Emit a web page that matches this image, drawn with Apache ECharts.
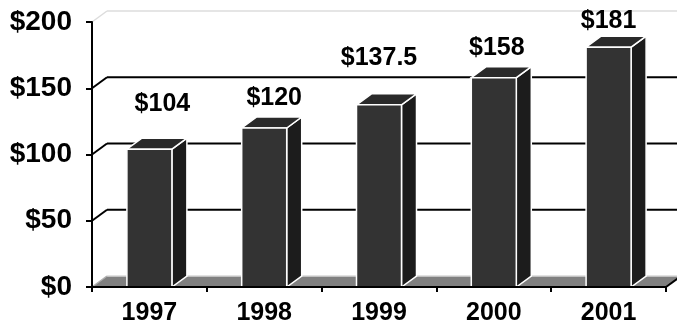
<!DOCTYPE html>
<html><head><meta charset="utf-8">
<script src="https://cdn.jsdelivr.net/npm/echarts@6/dist/echarts.min.js"></script>
<style>html,body{margin:0;padding:0;background:#fff}#c{width:677px;height:328px}</style>
</head><body><div id="c"></div>
<script>
// ---- data ----
const categories = ['1997', '1998', '1999', '2000', '2001'];
const values = [104, 120, 137.5, 158, 181];
const valueLabels = ['$104', '$120', '$137.5', '$158', '$181'];
const yTicks = [0, 50, 100, 150, 200];
const yTickLabels = ['$0', '$50', '$100', '$150', '$200'];

// ---- style (pixel nudges / 3D depth) ----
const labelDx = [13, 10, 0, 3, 0];
const labelDy = [-45, -30, -47, -30, -26];
const DX = 15, DY = -11;
const FONT = '"Liberation Sans", Arial, sans-serif';

const chart = echarts.init(document.getElementById('c'));

function wallItem(params, api) {
  const v = api.value(0);
  const y = api.coord([0, v])[1];
  const cs = params.coordSys;
  const L = cs.x, R = cs.x + cs.width;
  if (v === 0) {
    return {
      type: 'group', children: [
        { type: 'polygon', shape: { points: [[L, y], [L + DX, y + DY], [R + DX, y + DY], [R, y]] },
          style: { fill: '#808080', stroke: null } },
        { type: 'line', shape: { x1: L + DX, y1: y + DY, x2: R + DX, y2: y + DY },
          style: { stroke: '#d9d9d9', lineWidth: 1.5 } },
        { type: 'line', shape: { x1: L, y1: y, x2: L + DX, y2: y + DY },
          style: { stroke: '#b0b0b0', lineWidth: 1.5 } },
        { type: 'line', shape: { x1: R, y1: y, x2: R + DX, y2: y + DY },
          style: { stroke: '#000', lineWidth: 2 } }
      ]
    };
  }
  const top = v === yTicks[yTicks.length - 1];
  const col = top ? '#dcdcdc' : '#000';
  const lw = top ? 1.5 : 2;
  return {
    type: 'group', children: [
      { type: 'line', shape: { x1: L, y1: y, x2: L + DX, y2: y + DY }, style: { stroke: col, lineWidth: lw } },
      { type: 'line', shape: { x1: L + DX, y1: y + DY, x2: R + DX + 20, y2: y + DY }, style: { stroke: col, lineWidth: lw } }
    ]
  };
}

function barItem(params, api) {
  const i = api.value(0);
  const v = api.value(1);
  const t = api.coord([i, v]);
  const b = api.coord([i, 0]);
  const w = api.size([1, 0])[0] * 0.392;
  const x0 = t[0] - w / 2, x1 = x0 + w;
  const yt = t[1], yb = b[1];
  const edge = { stroke: '#ffffff', lineWidth: 1.5 };
  return {
    type: 'group', children: [
      { type: 'polygon', shape: { points: [[x1, yt], [x1 + DX, yt + DY], [x1 + DX, yb + DY], [x1, yb]] },
        style: Object.assign({ fill: '#1c1c1c' }, edge) },
      { type: 'polygon', shape: { points: [[x0, yt], [x0 + DX, yt + DY], [x1 + DX, yt + DY], [x1, yt]] },
        style: Object.assign({ fill: '#2a2a2a' }, edge) },
      { type: 'rect', shape: { x: x0, y: yt, width: w, height: yb - yt },
        style: Object.assign({ fill: '#333333' }, edge) },
      { type: 'text', x: t[0] + labelDx[params.dataIndex], y: yt + labelDy[params.dataIndex],
        style: { text: valueLabels[params.dataIndex], font: 'bold 25px ' + FONT, fill: '#000',
                 align: 'center', verticalAlign: 'middle' } }
    ]
  };
}

chart.setOption({
  animation: false,
  backgroundColor: '#fff',
  grid: { left: 92, right: 11, top: 22, bottom: 41, containLabel: false, outerBoundsMode: 'none' },
  xAxis: {
    type: 'category', data: categories, z: 10,
    axisLine: { lineStyle: { color: '#000', width: 2 } },
    axisTick: { show: true, length: 5, lineStyle: { color: '#000', width: 2 } },
    axisLabel: { color: '#000', fontFamily: FONT, fontWeight: 'bold', fontSize: 25, margin: 14 },
    splitLine: { show: false }
  },
  yAxis: {
    type: 'value', min: 0, max: 200, interval: 50, z: 10,
    axisLine: { show: true, lineStyle: { color: '#000', width: 2 } },
    axisTick: { show: true, length: 6, lineStyle: { color: '#000', width: 2 } },
    axisLabel: { color: '#000', fontFamily: FONT, fontWeight: 'bold', fontSize: 28, margin: 20,
                 formatter: function (v) { return yTickLabels[yTicks.indexOf(v)]; } },
    splitLine: { show: false }
  },
  series: [
    { type: 'custom', name: 'wall', z: 1, clip: false, renderItem: wallItem,
      data: yTicks.map(v => [v]), encode: { y: 0 }, silent: true },
    { type: 'custom', name: 'bars', z: 3, clip: false, renderItem: barItem,
      data: values.map((v, i) => [i, v]), encode: { x: 0, y: 1 } }
  ]
});
</script>
</body></html>
